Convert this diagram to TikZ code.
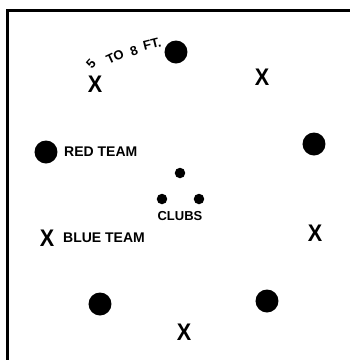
\documentclass[tikz,border=0pt]{standalone}
\usepackage{fontspec}
\setmainfont{Liberation Sans}
\usepackage{tikz}
\usetikzlibrary{positioning}

\begin{document}
\begin{tikzpicture}[x=1pt, y=-1pt,
    ball/.style={circle, fill=black, inner sep=0pt, minimum size=23pt},
    club/.style={circle, fill=black, inner sep=0pt, minimum size=10.5pt},
    player/.style={inner sep=0pt, font=\fontsize{24}{24}\selectfont\bfseries, xscale=0.9},
    label/.style={inner sep=0pt, font=\fontsize{14}{14}\selectfont\bfseries},
    gap/.style={inner sep=0pt, font=\fontsize{13}{13}\selectfont\bfseries}
]
\useasboundingbox (0,0) rectangle (350,360);

% Field edge
\coordinate (corner) at (7.5,10.5);
\coordinate (topend) at (350,10.5);
\coordinate (leftend) at (7.5,360);
\draw[line width=3pt] (leftend) -- (corner) -- (topend);

% Red Team
\node[ball] (red1) at (176,52) {};
\node[ball] (red2) at (46,152) {};
\node[ball] (red3) at (314,144) {};
\node[ball] (red4) at (100,304) {};
\node[ball] (red5) at (267,301) {};
\node[label, anchor=west] (redlabel) at (64,152) {RED TEAM};

% Blue Team
\node[player] (blue1) at (95,84) {X};
\node[player] (blue2) at (262,77) {X};
\node[player] (blue3) at (47,238) {X};
\node[player] (blue4) at (315,233) {X};
\node[player] (blue5) at (184,332) {X};
\node[label, anchor=west] (bluelabel) at (63,238) {BLUE TEAM};

% Clubs
\node[club] (club1) at (180,173) {};
\node[club] (club2) at (162,199) {};
\node[club] (club3) at (199,199) {};
\node[label, font=\fontsize{13}{13}\selectfont\bfseries] (clublabel) at (180,216) {CLUBS};

% Distance
\node[gap, rotate=48] (gap1) at (91,64) {5};
\node[gap, rotate=25] (gap2) at (115,57) {TO};
\node[gap, rotate=20] (gap3) at (134,51) {8};
\node[gap, rotate=14] (gap4) at (152,44) {FT.};

\end{tikzpicture}
\end{document}
